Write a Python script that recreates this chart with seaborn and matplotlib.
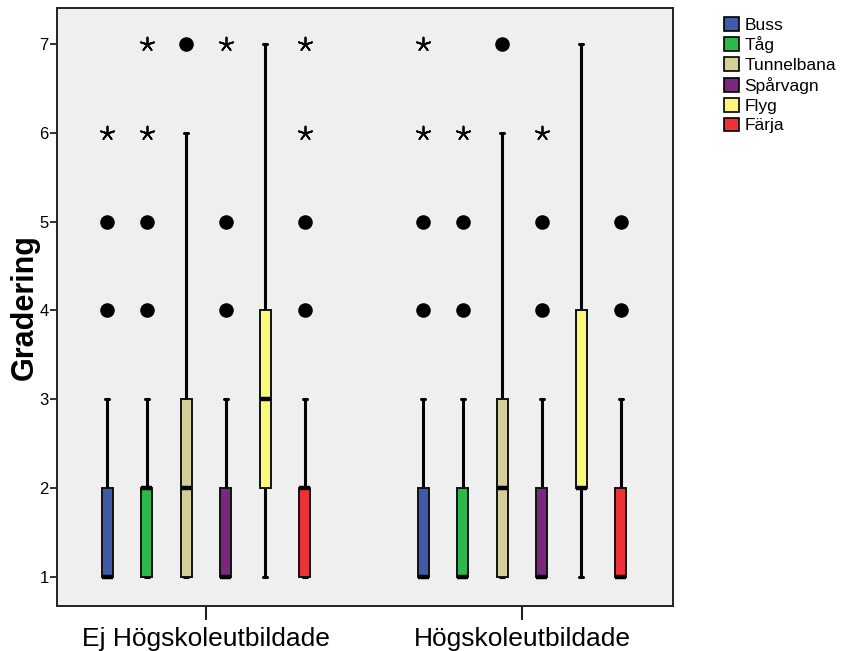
import matplotlib
matplotlib.use("Agg")
import matplotlib.pyplot as plt
from matplotlib.patches import Patch
import numpy as np
import pandas as pd
import seaborn as sns

# ---- data -------------------------------------------------------------
groups = ["Ej Högskoleutbildade", "Högskoleutbildade"]
modes = ["Buss", "Tåg", "Tunnelbana", "Spårvagn", "Flyg", "Färja"]
colors = ["#3F5AA9", "#2DB84B", "#D4CF99", "#7A287E", "#FBF77A", "#EE323A"]

# box statistics per group (rows) and mode (columns)
q1 = [[1, 1, 1, 1, 2, 1],
      [1, 1, 1, 1, 2, 1]]
median = [[1, 2, 2, 1, 3, 2],
          [1, 1, 2, 1, 2, 1]]
q3 = [[2, 2, 3, 2, 4, 2],
      [2, 2, 3, 2, 4, 2]]
whisker_low = [[1, 1, 1, 1, 1, 1],
               [1, 1, 1, 1, 1, 1]]
whisker_high = [[3, 3, 6, 3, 7, 3],
                [3, 3, 6, 3, 7, 3]]

# outliers (circles) and extreme values (stars)
outliers = [[[4, 5], [4, 5], [7], [4, 5], [], [4, 5]],
            [[4, 5], [4, 5], [7], [4, 5], [], [4, 5]]]
extremes = [[[6], [6, 7], [], [7], [], [6, 7]],
            [[6, 7], [6], [], [6], [], []]]

# ---- style ------------------------------------------------------------
sns.set_style("white")
plt.rcParams["font.family"] = ["Liberation Sans", "DejaVu Sans"]
plt.rcParams["text.color"] = "black"
plt.rcParams["axes.labelcolor"] = "black"
plt.rcParams["xtick.color"] = "black"
plt.rcParams["ytick.color"] = "black"

fig = plt.figure(figsize=(8.41, 6.51), dpi=100)
ax = fig.add_axes([0.0678, 0.0691, 0.7324, 0.9186])
ax.set_facecolor("#EFEFEF")

n_modes = len(modes)
slot = 0.75 / n_modes
offsets = (np.arange(n_modes) - (n_modes - 1) / 2) * slot
box_w = 0.035

stats, positions, fills = [], [], []
point_rows = []
for g in range(len(groups)):
    for m in range(n_modes):
        pos = g + offsets[m]
        stats.append(dict(med=median[g][m], q1=q1[g][m], q3=q3[g][m],
                          whislo=whisker_low[g][m], whishi=whisker_high[g][m],
                          fliers=[]))
        positions.append(pos)
        fills.append(colors[m])
        for v in outliers[g][m]:
            point_rows.append(dict(x=pos, y=v, kind="outlier"))
        for v in extremes[g][m]:
            point_rows.append(dict(x=pos, y=v, kind="extreme"))

bp = ax.bxp(stats, positions=positions, widths=box_w, patch_artist=True,
            showfliers=False, capwidths=0.013,
            boxprops=dict(edgecolor="#111111", linewidth=1.4),
            medianprops=dict(color="black", linewidth=3.2, solid_capstyle="butt"),
            whiskerprops=dict(color="black", linewidth=2.2),
            capprops=dict(color="black", linewidth=2.2))
for patch, c in zip(bp["boxes"], fills):
    patch.set_facecolor(c)
    patch.set_zorder(3)
for ln in bp["medians"]:
    ln.set_zorder(4)

points = pd.DataFrame(point_rows)
sns.scatterplot(data=points[points["kind"] == "outlier"], x="x", y="y", ax=ax,
                marker="o", s=110, color="black", edgecolor="black",
                linewidth=0, legend=False, zorder=5)
sns.scatterplot(data=points[points["kind"] == "extreme"], x="x", y="y", ax=ax,
                marker=(5, 2, 0), s=100, color="black", linewidth=1.3,
                legend=False, zorder=5)

# ---- axes -------------------------------------------------------------
ax.set_xlim(-0.4715, 1.478)
ax.set_ylim(0.673, 7.405)
ax.set_xticks(range(len(groups)))
ax.set_xticklabels(groups, fontsize=19)
ax.set_yticks(range(1, 8))
ax.set_yticklabels([str(v) for v in range(1, 8)], fontsize=12)
ax.tick_params(axis="x", bottom=True, direction="out", length=10, width=1.5,
               color="#222222", pad=5)
ax.tick_params(axis="y", left=True, direction="out", length=5, width=1.3,
               color="#222222", pad=1)
ax.set_xlabel("")
ax.set_ylabel("Gradering", fontsize=22, fontweight="bold", labelpad=0)

for side, sp in ax.spines.items():
    sp.set_visible(True)
    sp.set_color("#222222")
    sp.set_linewidth(1.4)

handles = [Patch(facecolor=c, edgecolor="black", linewidth=1.2) for c in colors]
fig.legend(handles, modes, loc="upper left", bbox_to_anchor=(0.853, 0.985),
           frameon=False, fontsize=12.5, handlelength=0.85, handleheight=0.85,
           handletextpad=0.3, labelspacing=0.22, borderaxespad=0)

fig.savefig("out.png", dpi=100)
